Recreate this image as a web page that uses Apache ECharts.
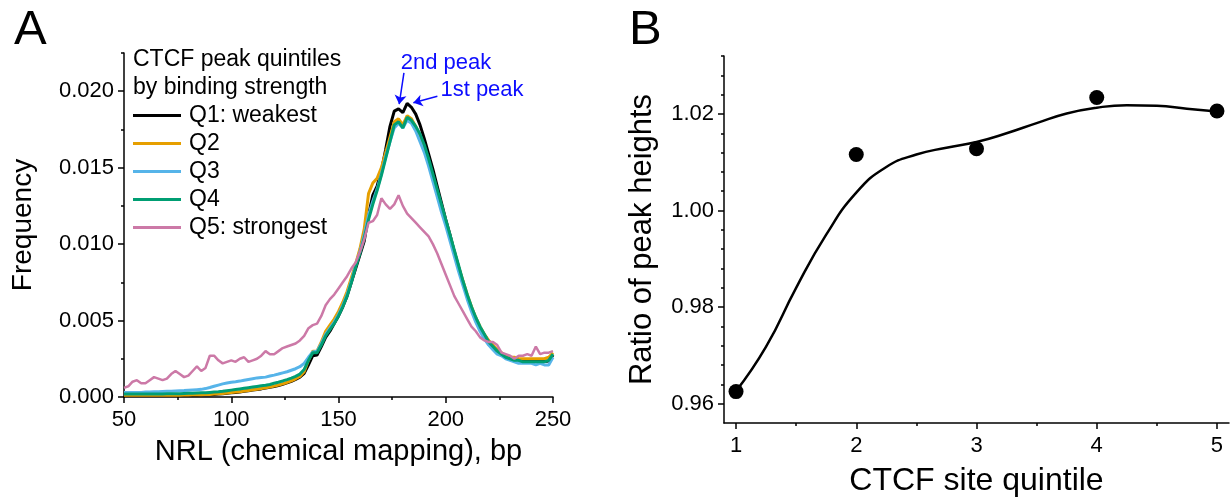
<!DOCTYPE html>
<html>
<head>
<meta charset="utf-8">
<script src="https://cdn.jsdelivr.net/npm/echarts@6/dist/echarts.min.js"></script>
<style>
  html, body { margin: 0; padding: 0; background: #fff; }
  #chart { width: 1231px; height: 503px; }
</style>
</head>
<body>
<div id="chart"></div>
<script>
// panel A: NRL distribution per CTCF quintile (x in bp, step 2)
const nrl = [50, 52, 54, 56, 58, 60, 62, 64, 66, 68,
  70, 72, 74, 76, 78, 80, 82, 84, 86, 88,
  90, 92, 94, 96, 98, 100, 102, 104, 106, 108,
  110, 112, 114, 116, 118, 120, 122, 124, 126, 128,
  130, 132, 134, 136, 138, 140, 142, 144, 146, 148,
  150, 152, 154, 156, 158, 160, 162, 164, 166, 168,
  170, 172, 174, 176, 178, 180, 182, 184, 186, 188,
  190, 192, 194, 196, 198, 200, 202, 204, 206, 208,
  210, 212, 214, 216, 218, 220, 222, 224, 226, 228,
  230, 232, 234, 236, 238, 240, 242, 244, 246, 248,
  250];

const q1 = [0.00010, 0.00010, 0.00010, 0.00010, 0.00010, 0.00010, 0.00010, 0.00010, 0.00010, 0.00010,
  0.00010, 0.00010, 0.00010, 0.00010, 0.00011, 0.00011, 0.00012, 0.00012, 0.00013, 0.00014,
  0.00015, 0.00017, 0.00019, 0.00021, 0.00024, 0.00027, 0.00030, 0.00033, 0.00037, 0.00041,
  0.00045, 0.00049, 0.00053, 0.00058, 0.00063, 0.00068, 0.00075, 0.00083, 0.00092, 0.00102,
  0.00115, 0.00130, 0.00155, 0.00210, 0.00270, 0.00275, 0.00330, 0.00390, 0.00430, 0.00480,
  0.00530, 0.00590, 0.00660, 0.00750, 0.00840, 0.00930, 0.01020, 0.01190, 0.01320, 0.01380,
  0.01480, 0.01620, 0.01770, 0.01870, 0.01885, 0.01860, 0.01920, 0.01895, 0.01850, 0.01780,
  0.01690, 0.01590, 0.01490, 0.01380, 0.01270, 0.01160, 0.01060, 0.00950, 0.00850, 0.00750,
  0.00660, 0.00580, 0.00510, 0.00450, 0.00405, 0.00365, 0.00330, 0.00300, 0.00280, 0.00265,
  0.00255, 0.00248, 0.00242, 0.00238, 0.00236, 0.00234, 0.00233, 0.00233, 0.00232, 0.00235,
  0.00275];

const q2 = [0.00012, 0.00012, 0.00012, 0.00012, 0.00012, 0.00012, 0.00012, 0.00012, 0.00012, 0.00012,
  0.00012, 0.00012, 0.00012, 0.00012, 0.00013, 0.00013, 0.00014, 0.00014, 0.00015, 0.00016,
  0.00017, 0.00019, 0.00021, 0.00023, 0.00026, 0.00029, 0.00032, 0.00035, 0.00039, 0.00043,
  0.00047, 0.00051, 0.00055, 0.00060, 0.00065, 0.00071, 0.00078, 0.00086, 0.00095, 0.00106,
  0.00119, 0.00135, 0.00165, 0.00240, 0.00300, 0.00300, 0.00360, 0.00430, 0.00470, 0.00510,
  0.00560, 0.00620, 0.00690, 0.00780, 0.00870, 0.00970, 0.01100, 0.01330, 0.01400, 0.01430,
  0.01500, 0.01600, 0.01700, 0.01800, 0.01820, 0.01780, 0.01840, 0.01820, 0.01770, 0.01710,
  0.01630, 0.01530, 0.01440, 0.01340, 0.01250, 0.01150, 0.01050, 0.00950, 0.00850, 0.00760,
  0.00670, 0.00590, 0.00520, 0.00460, 0.00410, 0.00370, 0.00340, 0.00310, 0.00290, 0.00270,
  0.00260, 0.00260, 0.00250, 0.00250, 0.00250, 0.00250, 0.00250, 0.00250, 0.00250, 0.00260,
  0.00290];

const q3 = [0.00030, 0.00030, 0.00030, 0.00030, 0.00030, 0.00032, 0.00033, 0.00034, 0.00035, 0.00036,
  0.00037, 0.00038, 0.00040, 0.00041, 0.00042, 0.00044, 0.00046, 0.00048, 0.00050, 0.00055,
  0.00062, 0.00070, 0.00078, 0.00086, 0.00092, 0.00097, 0.00100, 0.00104, 0.00110, 0.00115,
  0.00120, 0.00125, 0.00128, 0.00130, 0.00137, 0.00143, 0.00150, 0.00158, 0.00165, 0.00175,
  0.00185, 0.00198, 0.00220, 0.00260, 0.00295, 0.00300, 0.00350, 0.00410, 0.00450, 0.00490,
  0.00540, 0.00600, 0.00670, 0.00760, 0.00860, 0.00950, 0.01060, 0.01190, 0.01280, 0.01360,
  0.01460, 0.01570, 0.01670, 0.01760, 0.01790, 0.01760, 0.01810, 0.01790, 0.01740, 0.01670,
  0.01600, 0.01510, 0.01410, 0.01310, 0.01210, 0.01120, 0.01020, 0.00920, 0.00820, 0.00730,
  0.00640, 0.00560, 0.00490, 0.00430, 0.00380, 0.00340, 0.00310, 0.00280, 0.00270, 0.00250,
  0.00240, 0.00230, 0.00220, 0.00220, 0.00220, 0.00220, 0.00210, 0.00220, 0.00210, 0.00210,
  0.00260];

const q4 = [0.00020, 0.00020, 0.00020, 0.00020, 0.00020, 0.00020, 0.00020, 0.00020, 0.00020, 0.00020,
  0.00021, 0.00021, 0.00022, 0.00022, 0.00023, 0.00024, 0.00025, 0.00026, 0.00027, 0.00028,
  0.00030, 0.00032, 0.00034, 0.00037, 0.00041, 0.00045, 0.00049, 0.00053, 0.00057, 0.00061,
  0.00065, 0.00069, 0.00073, 0.00077, 0.00082, 0.00090, 0.00097, 0.00105, 0.00114, 0.00124,
  0.00135, 0.00150, 0.00180, 0.00240, 0.00290, 0.00290, 0.00340, 0.00400, 0.00440, 0.00480,
  0.00530, 0.00590, 0.00660, 0.00750, 0.00850, 0.00940, 0.01040, 0.01160, 0.01260, 0.01350,
  0.01450, 0.01560, 0.01670, 0.01780, 0.01800, 0.01760, 0.01830, 0.01810, 0.01770, 0.01720,
  0.01650, 0.01560, 0.01460, 0.01360, 0.01260, 0.01160, 0.01060, 0.00960, 0.00860, 0.00760,
  0.00670, 0.00590, 0.00520, 0.00460, 0.00410, 0.00360, 0.00330, 0.00300, 0.00280, 0.00260,
  0.00250, 0.00240, 0.00240, 0.00230, 0.00230, 0.00230, 0.00230, 0.00230, 0.00230, 0.00240,
  0.00280];

const q5 = [0.0006, 0.0007, 0.0010, 0.0011, 0.0009, 0.0009, 0.0011, 0.0013, 0.0012, 0.0011,
  0.0012, 0.0015, 0.0017, 0.0015, 0.0013, 0.0014, 0.0017, 0.0020, 0.0017, 0.0019,
  0.0027, 0.0027, 0.0024, 0.0022, 0.0023, 0.0024, 0.0023, 0.0025, 0.0026, 0.0023,
  0.0024, 0.0025, 0.0027, 0.0030, 0.0028, 0.0028, 0.0030, 0.0032, 0.0033, 0.0034,
  0.0035, 0.0037, 0.0040, 0.0045, 0.0047, 0.0048, 0.0053, 0.0060, 0.0064, 0.0067,
  0.0071, 0.0075, 0.0079, 0.0084, 0.0088, 0.0095, 0.0103, 0.0114, 0.0115, 0.0119,
  0.0130, 0.0126, 0.0123, 0.0126, 0.0132, 0.0125, 0.0120, 0.0117, 0.0114, 0.0111,
  0.0108, 0.0105, 0.0100, 0.0094, 0.0087, 0.0080, 0.0073, 0.0066, 0.0061, 0.0056,
  0.0051, 0.0046, 0.0043, 0.0039, 0.0037, 0.0036, 0.0036, 0.0034, 0.0029, 0.0028,
  0.0027, 0.0025, 0.0027, 0.0027, 0.0028, 0.0027, 0.0033, 0.0028, 0.0029, 0.0029,
  0.0030];

const quintileNames = ['Q1: weakest', 'Q2', 'Q3', 'Q4', 'Q5: strongest'];
const quintileColors = ['#000000', '#E69F00', '#56B4E9', '#009E73', '#CC79A7'];

// panel A ticks
const freqTicks = [0, 0.005, 0.010, 0.015, 0.020];
const freqMinorTicks = [0.0025, 0.0075, 0.0125, 0.0175, 0.0225];

// panel B: ratio of peak heights per quintile
const quintile = [1, 2, 3, 4, 5];
const ratio = [0.9625, 1.0116, 1.0128, 1.0234, 1.0206];
// fitted curve
const curveX = [1, 1.25, 1.5, 1.75, 2, 2.25, 2.5, 2.75, 3, 3.25, 3.5, 3.75, 4, 4.25, 4.5, 4.75, 5];
const curveY = [0.9626, 0.9718, 0.9840, 0.9950, 1.0037, 1.0090, 1.0116, 1.0130, 1.0142, 1.0160,
  1.0181, 1.0201, 1.0213, 1.0218, 1.0217, 1.0211, 1.0205];

const ratioTicks = [0.96, 0.98, 1.00, 1.02];
const ratioMinorTicks = [0.964, 0.968, 0.972, 0.976, 0.984, 0.988, 0.992, 0.996,
  1.004, 1.008, 1.012, 1.016, 1.024, 1.028, 1.032];
const quintileMinorTicks = [1.5, 2.5, 3.5, 4.5];

const FONT = "'Liberation Sans', Arial, sans-serif";
const BLUE = '#0d0dff';

// common axis look
const axisLine = { show: true, lineStyle: { color: '#000', width: 1.5 } };
const tickStyle = { color: '#000', width: 1.5 };

const minorAxis = (gridIndex, min, max, values, pos) => ({
  gridIndex: gridIndex,
  type: 'value',
  min: min,
  max: max,
  position: pos,
  axisLine: { show: false },
  axisTick: { show: true, length: 3, customValues: values, lineStyle: tickStyle },
  axisLabel: { show: false },
  splitLine: { show: false }
});

const lineSeries = quintileNames.map((name, k) => ({
  name: name,
  type: 'line',
  xAxisIndex: 0,
  yAxisIndex: 0,
  symbol: 'none',
  color: quintileColors[k],
  lineStyle: { width: k == 4 ? 2.5 : 3, color: quintileColors[k] },
  data: nrl.map((x, i) => [x, [q1, q2, q3, q4, q5][k][i]])
}));

// arrows and labels for the two peaks (hung on Q1)
lineSeries[0].markLine = {
  silent: true,
  symbol: ['none', 'arrow'],
  symbolSize: 9,
  lineStyle: { color: BLUE, width: 1.5, type: 'solid' },
  label: { show: false },
  data: [
    [{ coord: [180.5, 0.0212] }, { coord: [178.3, 0.01915] }],
    [{ coord: [196.1, 0.01967] }, { coord: [184.9, 0.01924] }]
  ]
};
lineSeries[0].markPoint = {
  silent: true,
  symbol: 'circle',
  symbolSize: 0,
  label: { show: true, position: 'inside', color: BLUE, fontSize: 22, fontFamily: FONT },
  data: [
    { coord: [200.1, 0.02183], label: { formatter: '2nd peak' } },
    { coord: [216.9, 0.02007], label: { formatter: '1st peak' } }
  ]
};

const option = {
  animation: false,
  backgroundColor: '#fff',
  textStyle: { fontFamily: FONT, color: '#000' },
  grid: [
    { left: 124, top: 53, width: 429, height: 344 },
    { left: 724, top: 56, width: 505, height: 367 }
  ],
  legend: {
    data: quintileNames,
    orient: 'vertical',
    left: 133,
    top: 104,
    padding: 0,
    icon: 'rect',
    itemWidth: 48,
    itemHeight: 3,
    itemGap: 5,
    textStyle: { fontSize: 23, color: '#000', fontFamily: FONT, padding: [0, 0, 0, 3] }
  },
  graphic: [
    { type: 'text', left: 14, top: 6, style: { text: 'A', font: '49px ' + FONT, fill: '#000' } },
    { type: 'text', left: 629, top: 6, style: { text: 'B', font: '49px ' + FONT, fill: '#000' } },
    { type: 'text', x: 133, y: 60, style: { text: 'CTCF peak quintiles', font: '23px ' + FONT, fill: '#000', verticalAlign: 'middle' } },
    { type: 'text', x: 133, y: 88, style: { text: 'by binding strength', font: '23px ' + FONT, fill: '#000', verticalAlign: 'middle' } }
  ],
  xAxis: [
    {
      gridIndex: 0,
      type: 'value',
      min: 50,
      max: 250,
      interval: 50,
      axisLine: axisLine,
      axisTick: { length: 6, lineStyle: tickStyle },
      minorTick: { show: true, splitNumber: 2, length: 3, lineStyle: tickStyle },
      axisLabel: { fontSize: 22, color: '#000', margin: 12 },
      splitLine: { show: false },
      minorSplitLine: { show: false },
      name: 'NRL (chemical mapping), bp',
      nameLocation: 'middle',
      nameGap: 40,
      nameTextStyle: { fontSize: 29, color: '#000', fontFamily: FONT }
    },
    {
      gridIndex: 1,
      type: 'value',
      min: 0.9,
      max: 5.1,
      axisLine: axisLine,
      axisTick: { length: 6, customValues: quintile, lineStyle: tickStyle },
      axisLabel: { fontSize: 22, color: '#000', margin: 12, customValues: quintile, formatter: v => String(Math.round(v)) },
      splitLine: { show: false },
      name: 'CTCF site quintile',
      nameLocation: 'middle',
      nameGap: 42,
      nameTextStyle: { fontSize: 32, color: '#000', fontFamily: FONT }
    },
    minorAxis(1, 0.9, 5.1, quintileMinorTicks, 'bottom')
  ],
  yAxis: [
    {
      gridIndex: 0,
      type: 'value',
      min: 0,
      max: 0.0225,
      position: 'left',
      axisLine: axisLine,
      axisTick: { length: 6, customValues: freqTicks, lineStyle: tickStyle },
      axisLabel: { fontSize: 22, color: '#000', margin: 10, customValues: freqTicks, formatter: v => v.toFixed(3) },
      splitLine: { show: false },
      name: 'Frequency',
      nameLocation: 'middle',
      nameGap: 87,
      nameTextStyle: { fontSize: 28, color: '#000', fontFamily: FONT }
    },
    minorAxis(0, 0, 0.0225, freqMinorTicks, 'left'),
    {
      gridIndex: 1,
      type: 'value',
      min: 0.956,
      max: 1.032,
      position: 'left',
      axisLine: axisLine,
      axisTick: { length: 6, customValues: ratioTicks, lineStyle: tickStyle },
      axisLabel: { fontSize: 22, color: '#000', margin: 10, customValues: ratioTicks, formatter: v => v.toFixed(2) },
      splitLine: { show: false },
      name: 'Ratio of peak heights',
      nameLocation: 'middle',
      nameGap: 66,
      nameTextStyle: { fontSize: 31, color: '#000', fontFamily: FONT }
    },
    minorAxis(1, 0.956, 1.032, ratioMinorTicks, 'left')
  ],
  series: lineSeries.concat([
    {
      name: 'fit',
      type: 'line',
      xAxisIndex: 1,
      yAxisIndex: 2,
      smooth: true,
      symbol: 'none',
      lineStyle: { color: '#000', width: 2.5 },
      data: curveX.map((x, i) => [x, curveY[i]])
    },
    {
      name: 'ratio',
      type: 'scatter',
      xAxisIndex: 1,
      yAxisIndex: 2,
      symbolSize: 15,
      itemStyle: { color: '#000', opacity: 1 },
      data: quintile.map((x, i) => [x, ratio[i]])
    }
  ])
};

const chart = echarts.init(document.getElementById('chart'));
chart.setOption(option);
</script>
</body>
</html>
